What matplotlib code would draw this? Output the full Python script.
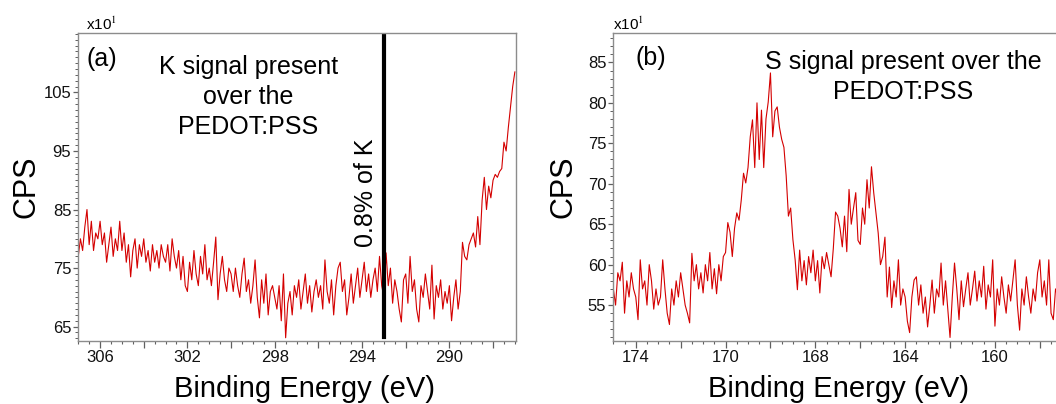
import numpy as np
import matplotlib
matplotlib.use("Agg")
import matplotlib.pyplot as plt
from matplotlib.ticker import FixedLocator, FixedFormatter, MultipleLocator

plt.rcParams["font.family"] = ["Liberation Sans", "DejaVu Sans"]
plt.rcParams["mathtext.fontset"] = "stix"

# (a) K region over PEDOT:PSS, 307.0 -> 287.0 eV in 0.1 eV steps (CPS x10)
k_start, k_stop = 307.0, 287.0
k_counts = [
    77, 80, 78, 82, 85, 79, 83, 78, 81, 80,
    83, 79, 81, 76, 79, 82, 77, 80, 78, 83,
    78, 81, 76, 79, 73.5, 78, 80, 75, 79, 77,
    80, 76, 78, 74.5, 79, 76, 78, 75, 79, 77,
    76, 79, 74.5, 80, 77, 75, 78, 73, 77, 72,
    71, 76, 73, 78, 74, 72, 77, 74, 79, 73,
    75, 72, 76, 80.3, 69.6, 74, 77, 73, 71, 75,
    74, 71, 75, 72, 70, 74, 76.7, 71, 73, 69,
    72, 76.4, 70, 66.5, 73, 69, 74, 67, 71, 72,
    70, 68, 72, 66, 74, 63.1, 69, 71, 67, 72,
    70, 73, 68, 71, 74, 69, 72, 67.5, 71, 73,
    70, 72, 68, 76.4, 71, 69, 73, 67, 72, 75,
    76, 71, 73, 67, 70, 74, 69, 72, 75, 70,
    73, 76, 71, 74, 70, 73, 75, 71, 77, 72,
    70, 77.6, 72, 75, 69, 73, 71, 68, 65.8, 73,
    74, 69, 77, 71, 73, 68, 65.8, 72, 70, 74,
    71, 68, 75.5, 66.3, 72, 70, 73, 68, 71, 69,
    72, 66, 70, 73, 68, 71, 79.4, 77, 76.4, 79,
    80, 81, 78.6, 83.8, 79, 86.6, 90.5, 85, 89, 87,
    90, 91, 90.5, 91.5, 92, 96.5, 95, 99, 102.5, 106, 108.5,
]
k_marker_ev = 293.0

# (b) S 2p region, 175.0 -> 155.2 eV in 0.1 eV steps (CPS x10)
s_start, s_stop = 175.0, 155.2
s_counts = [
    57, 55, 59, 58, 60.3, 54, 58, 56, 59, 57,
    56, 53.2, 60.6, 57, 58, 55, 60, 58, 54.5, 57,
    55, 56, 60.6, 57, 54, 52.6, 57, 55, 58, 56,
    59, 57, 55, 54, 52.8, 61.4, 58, 60, 57, 59,
    56.5, 60, 58, 61.5, 57, 59.5, 56.4, 60, 58, 61,
    61.5, 65.2, 64, 61, 64.5, 66.4, 65.5, 68, 71.3, 70.1,
    72, 75.8, 77.9, 72, 80, 73, 79.1, 72, 78, 80.1,
    83.7, 75.8, 79, 79.5, 77, 75.5, 74.5, 71, 66, 67,
    63.1, 60.6, 56.9, 61.8, 58, 60.5, 57.5, 61, 59, 61.8,
    58, 60.5, 56.5, 61, 59.5, 61.5, 60, 58.5, 62, 66.5,
    66, 64.5, 62.2, 66, 61.6, 69.3, 65, 67, 68.9, 63,
    62.5, 67, 65, 70.5, 67, 72.1, 68.9, 66.4, 63.9, 60,
    61, 63.4, 56, 59.7, 54.7, 58, 56, 60.6, 55, 57,
    56, 53, 51.6, 56, 58.1, 58.5, 55, 57.5, 54, 56,
    52.3, 55, 58.1, 54, 57, 56, 60.2, 55, 58, 54.5,
    51, 56, 60.2, 57, 53.2, 58, 54.8, 57, 59, 55,
    57, 59.2, 55.5, 58, 56, 59.8, 54.5, 57.5, 56, 60.6,
    52.4, 57, 55, 58.5, 56, 54, 57.5, 55.5, 58, 60.6,
    55, 51.9, 57, 55, 58.5, 56, 54, 57, 55.5, 59,
    60.6, 56, 58, 55, 60.6, 54, 53.2, 57, 56,
]

k_xticks = [306, 304, 302, 300, 298, 296, 294, 292, 290, 288]
k_xticklabels = ["306", "", "302", "", "298", "", "294", "", "290", ""]
k_yticks = [65, 75, 85, 95, 105]
s_xticks = [174, 172, 170, 168, 166, 164, 162, 160, 158, 156]
s_xticklabels = ["174", "", "170", "", "168", "", "164", "", "160", ""]
s_yticks = [55, 60, 65, 70, 75, 80, 85]

line_color = "#d40000"


def style_axes(ax):
    for sp in ax.spines.values():
        sp.set_color("#8c8c8c")
        sp.set_linewidth(1.0)
    ax.tick_params(which="both", direction="out", colors="#606060",
                   labelcolor="#111111", labelsize=12)
    ax.tick_params(axis="x", which="major", length=5, width=0.9, pad=2)
    ax.tick_params(axis="x", which="minor", length=2.5, width=0.8)
    ax.tick_params(axis="y", which="major", length=3.5, width=0.9, pad=1.5)
    ax.tick_params(axis="y", which="minor", length=2, width=0.7)


fig = plt.figure(figsize=(10.56, 4.04), dpi=100)

# panel (a)
ax_a = fig.add_axes([0.0741, 0.1567, 0.4145, 0.7609])
k_ev = np.linspace(k_start, k_stop, len(k_counts))
ax_a.plot(k_ev, k_counts, color=line_color, lw=0.8)
ax_a.axvline(k_marker_ev, ymin=0.012, ymax=0.991, color="black", lw=3)
ax_a.set_xlim(307.0, 286.95)
ax_a.set_ylim(62.6, 115.1)
ax_a.xaxis.set_major_locator(FixedLocator(k_xticks))
ax_a.xaxis.set_major_formatter(FixedFormatter(k_xticklabels))
ax_a.xaxis.set_minor_locator(MultipleLocator(0.5))
ax_a.yaxis.set_major_locator(FixedLocator(k_yticks))
ax_a.yaxis.set_minor_locator(MultipleLocator(1))
style_axes(ax_a)
ax_a.set_xlabel("Binding Energy (eV)", fontsize=21, va="baseline")
ax_a.xaxis.set_label_coords(0.516, -0.183)
ax_a.set_ylabel("CPS", fontsize=22, va="baseline")
ax_a.yaxis.set_label_coords(-0.099, 0.5)
ax_a.text(0.0176, 1.011, r"x10$^{\mathrm{1}}$", transform=ax_a.transAxes,
          fontsize=11, ha="left", va="baseline")
ax_a.text(0.054, 0.916, "(a)", transform=ax_a.transAxes, fontsize=18,
          ha="center", va="center")
ax_a.text(0.389, 0.930, "K signal present\nover the\nPEDOT:PSS",
          transform=ax_a.transAxes, fontsize=18, ha="center", va="top",
          linespacing=1.31)
ax_a.text(0.684, 0.482, "0.8% of K", transform=ax_a.transAxes, fontsize=18,
          rotation=90, ha="right", va="center")

# panel (b)
ax_b = fig.add_axes([0.5808, 0.1567, 0.4211, 0.7609])
s_ev = np.linspace(s_start, s_stop, len(s_counts))
ax_b.plot(s_ev, s_counts, color=line_color, lw=0.8)
ax_b.set_xlim(175.0, 155.19)
ax_b.set_ylim(50.6, 88.6)
ax_b.xaxis.set_major_locator(FixedLocator(s_xticks))
ax_b.xaxis.set_major_formatter(FixedFormatter(s_xticklabels))
ax_b.xaxis.set_minor_locator(MultipleLocator(0.5))
ax_b.yaxis.set_major_locator(FixedLocator(s_yticks))
ax_b.yaxis.set_minor_locator(MultipleLocator(1))
style_axes(ax_b)
ax_b.set_xlabel("Binding Energy (eV)", fontsize=21, va="baseline")
ax_b.xaxis.set_label_coords(0.507, -0.183)
ax_b.set_ylabel("CPS", fontsize=22, va="baseline")
ax_b.yaxis.set_label_coords(-0.093, 0.5)
ax_b.text(0.0, 1.011, r"x10$^{\mathrm{1}}$", transform=ax_b.transAxes,
          fontsize=11, ha="left", va="baseline")
ax_b.text(0.0843, 0.920, "(b)", transform=ax_b.transAxes, fontsize=18,
          ha="center", va="center")
ax_b.text(0.651, 0.946, "S signal present over the\nPEDOT:PSS",
          transform=ax_b.transAxes, fontsize=18, ha="center", va="top",
          linespacing=1.33)

fig.savefig("out.png", dpi=100)
